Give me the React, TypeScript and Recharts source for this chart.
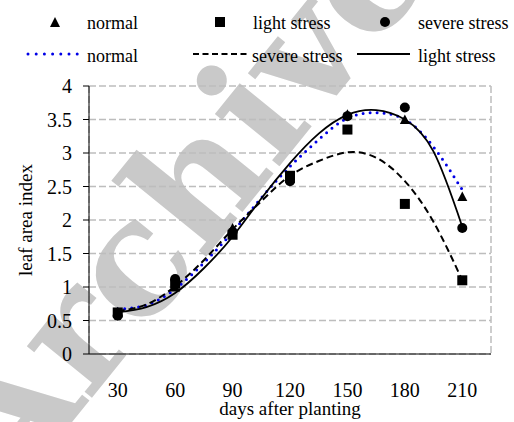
import React from 'react';
import { ComposedChart, Line, Scatter, XAxis, YAxis, CartesianGrid } from 'recharts';

// measured points
const days = [30, 60, 90, 120, 150, 180, 210];
const normalLai = [0.63, 1.0, 1.88, 2.62, 3.58, 3.5, 2.35];
const lightLai = [0.62, 1.05, 1.78, 2.66, 3.35, 2.24, 1.1];
const severeLai = [0.57, 1.12, 1.82, 2.58, 3.55, 3.68, 1.88];

// trend curves, read every 15 days
const trendDays = [30, 45, 60, 75, 90, 105, 120, 135, 150, 165, 180, 195, 210];
const normalTrend = [0.67, 0.73, 0.97, 1.36, 1.82, 2.33, 2.8, 3.2, 3.52, 3.6, 3.5, 3.09, 2.45];
const severeTrend = [0.64, 0.74, 1.01, 1.4, 1.86, 2.28, 2.66, 2.88, 3.01, 2.93, 2.58, 1.97, 1.1];
const lightTrend = [0.62, 0.7, 0.91, 1.28, 1.75, 2.32, 2.85, 3.29, 3.57, 3.64, 3.5, 3.02, 1.9];

const boundaries = [15, 45, 75, 105, 135, 165, 195, 225];
const yTicks = [0, 0.5, 1, 1.5, 2, 2.5, 3, 3.5, 4];

const pts = (xs: number[], ys: number[]) => xs.map((x, i) => ({ x, y: ys[i] }));

const font = 'Liberation Serif';
const css = ".chart-root text { font-family: 'Liberation Serif', serif !important; } .chart-root .wm { font-family: 'DejaVu Serif', serif !important; }";

const Triangle = (p: any) => (
  <polygon points={`${p.cx},${p.cy - 5} ${p.cx + 5},${p.cy + 4.5} ${p.cx - 5},${p.cy + 4.5}`} fill="#000" />
);
const Square = (p: any) => <rect x={p.cx - 5} y={p.cy - 5} width={10} height={10} fill="#000" />;
const Dot = (p: any) => <circle cx={p.cx} cy={p.cy} r={5} fill="#000" />;

const LegendBox = () => (
  <svg width={514} height={80} style={{ position: 'absolute', left: 0, top: 0 }}>
    <polygon points="55,17 60,27 50,27" fill="#000" />
    <text x={87} y={29} fontFamily={font} fontSize={18}>normal</text>
    <rect x={215} y={17} width={10} height={10} fill="#000" />
    <text x={253} y={29} fontFamily={font} fontSize={18}>light stress</text>
    <circle cx={385} cy={22} r={5} fill="#000" />
    <text x={418} y={29} fontFamily={font} fontSize={18}>severe stress</text>

    <line x1={28} y1={54} x2={78} y2={54} stroke="#0000e6" strokeWidth={3} strokeDasharray="0 8.2" strokeLinecap="round" />
    <text x={87} y={62} fontFamily={font} fontSize={18}>normal</text>
    <line x1={193} y1={54} x2={247} y2={54} stroke="#000" strokeWidth={2} strokeDasharray="6 3.5" />
    <text x={252} y={62} fontFamily={font} fontSize={18}>severe stress</text>
    <line x1={357} y1={54} x2={410} y2={54} stroke="#000" strokeWidth={2} />
    <text x={418} y={62} fontFamily={font} fontSize={18}>light stress</text>
  </svg>
);

export default function App() {
  return (
    <div className="chart-root" style={{ position: 'absolute', left: 0, top: 0, width: 514, height: 422, background: '#fff', overflow: 'hidden', fontFamily: font }}>
      <style>{css}</style>
      <svg width={514} height={422} style={{ position: 'absolute', left: 0, top: 0 }}>
        <text
          className="wm"
          x={180}
          y={200}
          textAnchor="middle"
          dominantBaseline="central"
          transform="rotate(-51 180 200)"
          fontFamily="DejaVu Serif"
          fontSize={160}
          fontWeight="bold"
          fill="#c9c9c9"
        >
          Archive
        </text>
      </svg>
      <div style={{ position: 'absolute', left: 0, top: 0 }}>
        <ComposedChart width={514} height={422} margin={{ top: 86, right: 23, left: 0, bottom: 0 }}>
          <CartesianGrid stroke="#bdbdbd" strokeWidth={1.5} strokeDasharray="7 3" />
          <XAxis
            dataKey="x"
            type="number"
            domain={[15, 225]}
            ticks={boundaries}
            tick={false}
            tickSize={6}
            height={20}
            stroke="#000"
            allowDataOverflow
          />
          <XAxis
            xAxisId="lbl"
            dataKey="x"
            type="number"
            domain={[15, 225]}
            ticks={days}
            axisLine={false}
            tickLine={false}
            tickSize={0}
            tickMargin={9}
            height={48}
            tick={{ fill: '#000', fontSize: 20, fontFamily: font }}
            label={{ value: 'days after planting', position: 'insideBottom', offset: 7, fill: '#000', fontSize: 19, fontFamily: font }}
            allowDataOverflow
          />
          <YAxis
            dataKey="y"
            type="number"
            domain={[0, 4]}
            ticks={yTicks}
            width={89}
            tickSize={6}
            tickMargin={11}
            stroke="#000"
            tick={{ fill: '#000', fontSize: 20, fontFamily: font }}
            label={{ value: 'leaf area index', angle: -90, position: 'insideLeft', dx: 20, fill: '#000', fontSize: 19, fontFamily: font, style: { textAnchor: 'middle' } }}
          />
          <Line data={pts(trendDays, normalTrend)} dataKey="y" type="natural" stroke="#0000e6" strokeWidth={3} strokeDasharray="0 7" strokeLinecap="round" dot={false} isAnimationActive={false} />
          <Line data={pts(trendDays, severeTrend)} dataKey="y" type="natural" stroke="#000" strokeWidth={2} strokeDasharray="7 4" dot={false} isAnimationActive={false} />
          <Line data={pts(trendDays, lightTrend)} dataKey="y" type="natural" stroke="#000" strokeWidth={1.8} dot={false} isAnimationActive={false} />
          <Scatter xAxisId="lbl" data={pts(days, normalLai)} shape={Triangle} isAnimationActive={false} />
          <Scatter xAxisId="lbl" data={pts(days, lightLai)} shape={Square} isAnimationActive={false} />
          <Scatter xAxisId="lbl" data={pts(days, severeLai)} shape={Dot} isAnimationActive={false} />
        </ComposedChart>
      </div>
      <LegendBox />
    </div>
  );
}
